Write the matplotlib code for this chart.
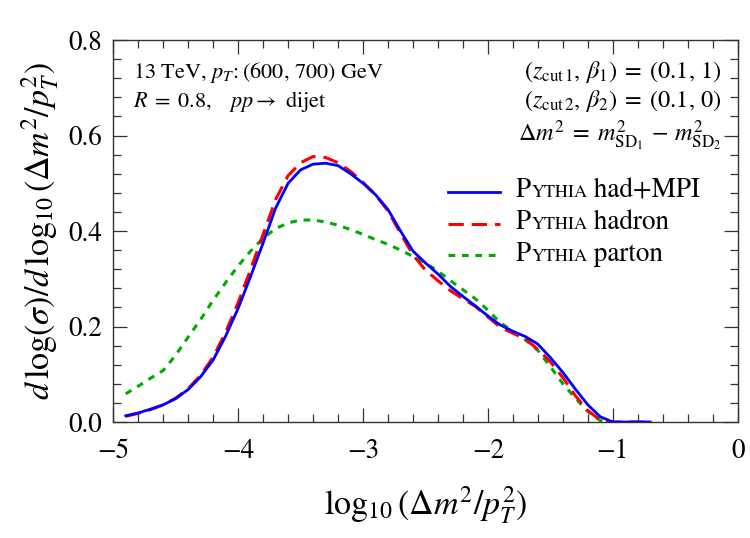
import matplotlib
matplotlib.use("Agg")
import matplotlib.pyplot as plt
from matplotlib.ticker import MultipleLocator, FormatStrFormatter
from matplotlib.offsetbox import TextArea, HPacker, AnchoredOffsetbox

plt.rcParams['font.family'] = 'STIXGeneral'
plt.rcParams['mathtext.fontset'] = 'stix'

# log10(dm^2/pT^2) grid
logm = [-4.9, -4.8, -4.7, -4.6, -4.5, -4.4, -4.3, -4.2, -4.1, -4.0,
        -3.9, -3.8, -3.7, -3.6, -3.5, -3.4, -3.3, -3.2, -3.1, -3.0,
        -2.9, -2.8, -2.7, -2.6, -2.5, -2.4, -2.3, -2.2, -2.1, -2.0,
        -1.9, -1.8, -1.7, -1.6, -1.5, -1.4, -1.3, -1.2, -1.1, -1.0,
        -0.9, -0.8, -0.7]

had_mpi = [0.013, 0.019, 0.027, 0.036, 0.049, 0.068, 0.095, 0.130, 0.180, 0.238,
           0.305, 0.375, 0.448, 0.500, 0.528, 0.540, 0.542, 0.537, 0.520, 0.500,
           0.476, 0.445, 0.400, 0.358, 0.333, 0.310, 0.284, 0.263, 0.243, 0.222,
           0.203, 0.190, 0.179, 0.163, 0.135, 0.104, 0.069, 0.036, 0.011, 0.000,
           0.0, 0.0, 0.0]

hadron = [0.012, 0.018, 0.026, 0.036, 0.050, 0.070, 0.098, 0.136, 0.188, 0.250,
          0.320, 0.393, 0.466, 0.516, 0.543, 0.556, 0.554, 0.543, 0.525, 0.502,
          0.476, 0.442, 0.395, 0.350, 0.318, 0.296, 0.275, 0.258, 0.242, 0.220,
          0.198, 0.186, 0.174, 0.152, 0.126, 0.093, 0.055, 0.024, 0.004, 0.000,
          0.0, 0.0, 0.0]

parton = [0.059, 0.075, 0.092, 0.108, 0.140, 0.178, 0.215, 0.255, 0.292, 0.327,
          0.358, 0.385, 0.405, 0.417, 0.423, 0.423, 0.419, 0.412, 0.403, 0.393,
          0.382, 0.372, 0.360, 0.347, 0.333, 0.316, 0.296, 0.277, 0.258, 0.234,
          0.208, 0.190, 0.172, 0.150, 0.116, 0.080, 0.050, 0.022, 0.003, 0.000]

fig = plt.figure(figsize=(7.5, 5.38), dpi=100)
ax = fig.add_axes([0.151, 0.2156, 0.8326, 0.710])

ax.plot(logm, had_mpi, color='#0000ff', lw=2.0, zorder=4)
ax.plot(logm, hadron, color='#ff0000', lw=2.2, dashes=(5, 2.6), zorder=3)
ax.plot(logm[:len(parton)], parton, color='#00aa00', lw=2.2, dashes=(2.2, 2.2), zorder=2)

ax.set_xlim(-5, 0)
ax.set_ylim(0, 0.8)
ax.xaxis.set_major_locator(MultipleLocator(1))
ax.xaxis.set_minor_locator(MultipleLocator(0.2))
ax.yaxis.set_major_locator(MultipleLocator(0.2))
ax.yaxis.set_minor_locator(MultipleLocator(0.04))
ax.yaxis.set_major_formatter(FormatStrFormatter('%.1f'))

frame = '#333333'
for s in ax.spines.values():
    s.set_color(frame)
    s.set_linewidth(1.0)
ax.tick_params(which='both', direction='in', top=True, right=True, color=frame, width=0.9)
ax.tick_params(which='major', length=10, labelsize=19.5)
ax.tick_params(axis='x', which='major', pad=12)
ax.tick_params(axis='y', which='major', pad=8)
ax.tick_params(which='minor', length=5.5)

ax.set_xlabel(r'$\log_{10}(\Delta m^2/p_T^2)$', fontsize=24.5, labelpad=15)
ax.set_ylabel(r'$d\,\log(\sigma)/d\,\log_{10}(\Delta m^2/p_T^2)$', fontsize=24.5, labelpad=5)

fs = 16
rfs = 17.5
ax.text(0.032, 0.9, r'13 TeV, $p_T\!:(600,\,700)$ GeV', transform=ax.transAxes, fontsize=fs, va='baseline')
ax.text(0.032, 0.825, r'$R\;=\;0.8,\quad pp \rightarrow$ dijet', transform=ax.transAxes, fontsize=fs, va='baseline')
ax.text(0.974, 0.9, r'$(z_{\mathrm{cut}\,1},\,\beta_1)\;=\;(0.1,\,1)$', transform=ax.transAxes,
        fontsize=rfs, va='baseline', ha='right')
ax.text(0.974, 0.825, r'$(z_{\mathrm{cut}\,2},\,\beta_2)\;=\;(0.1,\,0)$', transform=ax.transAxes,
        fontsize=rfs, va='baseline', ha='right')
ax.text(0.974, 0.735, r'$\Delta m^2\;=\;m^2_{\mathrm{SD}_1}\,-\,m^2_{\mathrm{SD}_2}$', transform=ax.transAxes,
        fontsize=rfs, va='baseline', ha='right')

# legend drawn by hand so that "Pythia" can be set in small caps
legend_rows = [('had+MPI', '#0000ff', None, 2.0),
               ('hadron', '#ff0000', (5, 2.6), 2.2),
               ('parton', '#00aa00', (2.2, 2.2), 2.2)]
row_y = [0.602, 0.519, 0.436]
for (name, col, dash, lw), y in zip(legend_rows, row_y):
    kw = dict(color=col, lw=lw, transform=ax.transAxes, clip_on=False)
    if dash is not None:
        kw['dashes'] = dash
    ax.plot([0.536, 0.619], [y, y], **kw)
    parts = [TextArea('P', textprops=dict(size=19.5)),
             TextArea('YTHIA', textprops=dict(size=13)),
             TextArea(' ' + name, textprops=dict(size=19.5))]
    row = HPacker(children=parts, align='baseline', pad=0, sep=0)
    box = AnchoredOffsetbox(loc='center left', child=row, pad=0, borderpad=0, frameon=False,
                            bbox_to_anchor=(0.645, y + 0.003), bbox_transform=ax.transAxes)
    ax.add_artist(box)

fig.savefig('out.png', dpi=100)
